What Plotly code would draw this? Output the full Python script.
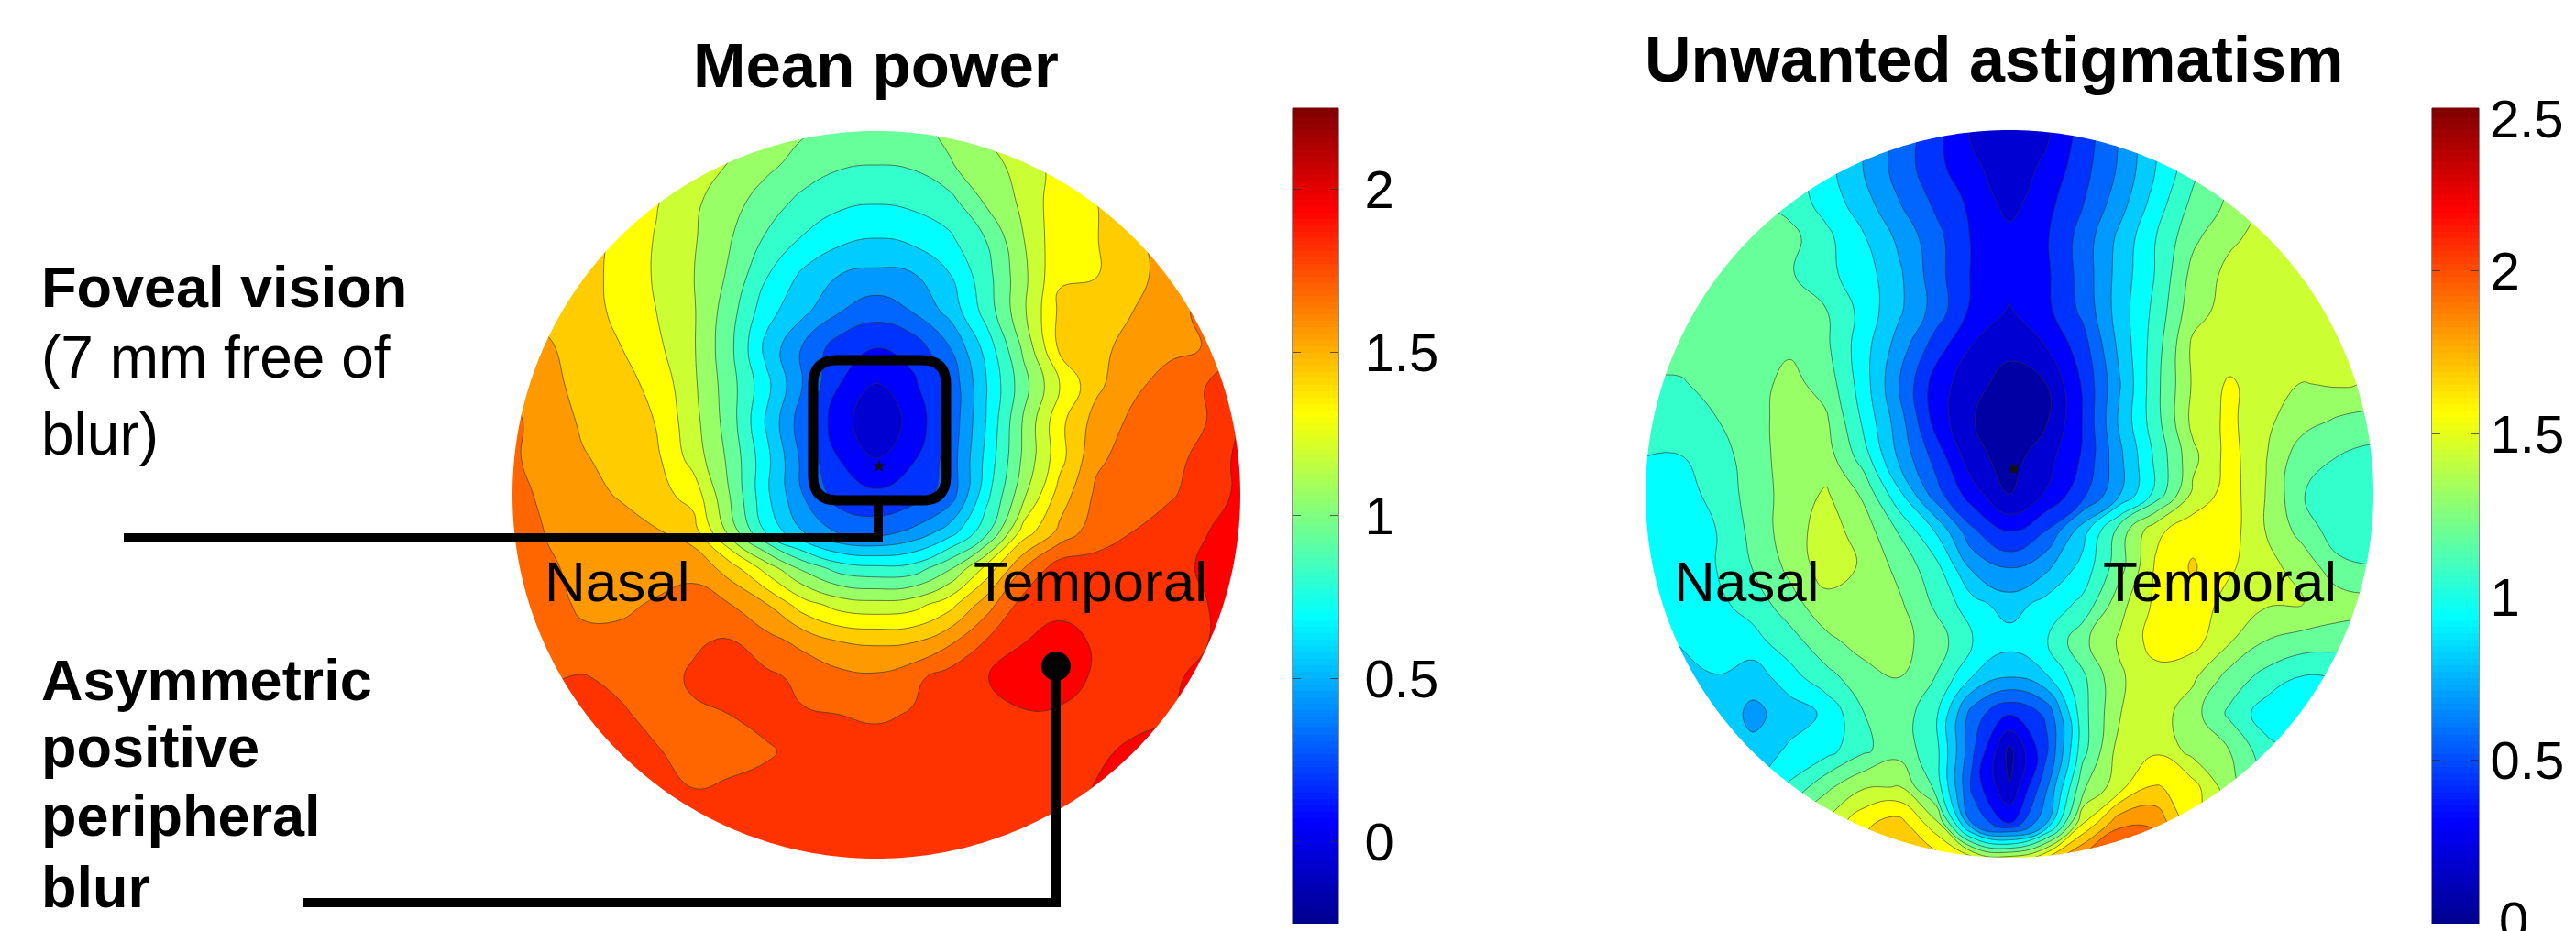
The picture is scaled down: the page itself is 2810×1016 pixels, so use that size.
import numpy as np
import plotly.graph_objects as go

W, H = 2810, 1016

# Pupil-normalised grid positions
grid_x = [round(-1 + 0.1 * i, 1) for i in range(21)]
grid_y = [round(1 - 0.1 * i, 1) for i in range(21)]

mean_power = [
 [1.5,1.45,1.42,1.4,1.35,1.28,1.2,1.1,1.02,.98,.96,.97,1.03,1.15,1.25,1.35,1.42,1.52,1.62,1.7,1.75],
 [1.5,1.5,1.45,1.4,1.32,1.2,1.115,1.03,.95,.89,.875,.89,.99,1.07,1.18,1.3,1.4,1.52,1.62,1.7,1.75],
 [1.5,1.48,1.43,1.36,1.26,1.15,1.05,.94,.84,.78,.76,.78,.83,1.02,1.15,1.33,1.37,1.48,1.6,1.68,1.74],
 [1.5,1.47,1.42,1.35,1.24,1.14,1.01,.86,.74,.66,.625,.66,.73,.88,1.12,1.34,1.37,1.46,1.58,1.66,1.72],
 [1.5,1.48,1.42,1.34,1.235,1.13,.98,.76,.6,.5,.47,.49,.62,.83,1.09,1.36,1.37,1.46,1.55,1.64,1.7],
 [1.55,1.47,1.42,1.35,1.25,1.14,.93,.67,.53,.38,.30,.38,.54,.8,1.1,1.4,1.43,1.5,1.58,1.66,1.72],
 [1.58,1.52,1.44,1.38,1.28,1.14,.91,.59,.36,.18,.125,.17,.37,.67,1.02,1.4,1.46,1.55,1.6,1.63,1.72],
 [1.62,1.53,1.47,1.42,1.34,1.15,.93,.66,.37,.125,-.005,.1,.28,.62,.95,1.25,1.47,1.6,1.67,1.75,1.85],
 [1.65,1.58,1.48,1.43,1.37,1.17,.94,.61,.3,.04,-.07,.03,.28,.63,1.01,1.34,1.55,1.65,1.7,1.75,1.88],
 [1.65,1.57,1.51,1.46,1.4,1.2,.97,.66,.34,.12,.0,.11,.3,.66,1.02,1.33,1.6,1.68,1.72,1.78,1.92],
 [1.67,1.6,1.54,1.49,1.42,1.33,1.0,.65,.375,.19,.15,.19,.3,.71,1.09,1.43,1.65,1.72,1.74,1.79,1.92],
 [1.7,1.62,1.57,1.55,1.51,1.43,1.08,.73,.5,.35,.32,.4,.56,.83,1.3,1.53,1.7,1.75,1.79,1.87,1.95],
 [1.7,1.64,1.6,1.58,1.57,1.6,1.44,1.2,.97,.82,.78,.8,.98,1.29,1.62,1.82,1.79,1.79,1.82,1.9,1.97],
 [1.72,1.68,1.6,1.6,1.64,1.66,1.63,1.51,1.31,1.2,1.17,1.2,1.33,1.57,1.8,1.84,1.84,1.84,1.84,1.87,1.95],
 [1.72,1.7,1.66,1.66,1.69,1.74,1.76,1.67,1.59,1.5,1.48,1.49,1.6,1.76,1.87,1.92,1.86,1.84,1.84,1.87,1.95],
 [1.74,1.74,1.76,1.72,1.72,1.76,1.82,1.78,1.72,1.67,1.65,1.72,1.81,1.87,1.95,1.95,1.85,1.84,1.86,1.9,1.95],
 [1.77,1.78,1.8,1.77,1.71,1.74,1.75,1.8,1.76,1.75,1.73,1.76,1.83,1.87,1.86,1.85,1.84,1.85,1.87,1.92,1.95],
 [1.8,1.8,1.82,1.78,1.76,1.7,1.7,1.73,1.8,1.82,1.81,1.83,1.84,1.84,1.84,1.84,1.86,1.89,1.92,1.95,1.97],
 [1.82,1.82,1.82,1.8,1.8,1.75,1.77,1.8,1.83,1.84,1.84,1.84,1.84,1.84,1.84,1.84,1.88,1.92,1.95,1.97,1.98],
 [1.83,1.83,1.83,1.83,1.83,1.82,1.83,1.84,1.84,1.85,1.85,1.85,1.85,1.85,1.85,1.86,1.9,1.94,1.96,1.98,1.98],
 [1.84,1.84,1.84,1.84,1.84,1.84,1.84,1.84,1.85,1.85,1.85,1.85,1.85,1.85,1.86,1.88,1.92,1.95,1.97,1.98,1.98],
]

astigmatism = [
 [1.2,1.2,1.2,1.15,1.08,.95,.78,.6,.42,.22,.15,.22,.42,.64,.88,1.05,1.3,1.4,1.42,1.42,1.42],
 [1.2,1.2,1.2,1.17,1.08,.92,.75,.57,.41,.27,.18,.27,.45,.64,.875,1.08,1.28,1.4,1.42,1.42,1.42],
 [1.2,1.2,1.2,1.16,1.07,.95,.8,.625,.47,.34,.2,.33,.49,.69,.93,1.15,1.27,1.4,1.42,1.42,1.42],
 [1.2,1.2,1.2,1.2,1.17,1.03,.89,.72,.54,.36,.29,.36,.55,.78,1.0,1.22,1.35,1.42,1.43,1.43,1.43],
 [1.2,1.2,1.2,1.2,1.14,1.03,.94,.77,.55,.36,.29,.35,.55,.8,1.01,1.29,1.41,1.44,1.44,1.44,1.44],
 [1.17,1.18,1.2,1.2,1.19,1.13,.96,.77,.57,.34,.24,.34,.53,.81,1.04,1.33,1.42,1.44,1.44,1.44,1.44],
 [1.15,1.18,1.2,1.22,1.23,1.15,.93,.69,.43,.24,.16,.25,.44,.78,1.07,1.4,1.42,1.44,1.44,1.42,1.38],
 [1.12,1.11,1.17,1.2,1.29,1.2,.94,.625,.31,.17,.07,.125,.39,.74,1.09,1.39,1.52,1.43,1.37,1.39,1.36],
 [1.08,1.1,1.12,1.19,1.32,1.27,.98,.68,.32,.13,.05,.11,.38,.77,1.08,1.41,1.53,1.4,1.3,1.23,1.2],
 [1.0,.99,1.08,1.17,1.33,1.31,1.07,.72,.45,.17,.07,.2,.39,.72,1.03,1.34,1.55,1.38,1.17,1.12,1.08],
 [.93,.93,1.05,1.17,1.31,1.39,1.23,.9,.55,.3,.125,.26,.46,.74,1.04,1.4,1.56,1.37,1.13,1.05,1.03],
 [.92,.92,1.0,1.16,1.32,1.43,1.32,1.11,.86,.52,.35,.5,.82,1.18,1.47,1.58,1.56,1.37,1.2,1.05,1.05],
 [.92,.93,1.0,1.13,1.28,1.44,1.36,1.21,1.04,.72,.61,.72,.92,1.2,1.52,1.64,1.52,1.41,1.33,1.16,1.13],
 [.9,.93,.97,1.05,1.2,1.33,1.32,1.27,1.1,.92,.815,.92,1.03,1.33,1.53,1.58,1.45,1.39,1.38,1.32,1.3],
 [.85,.88,.93,.96,1.07,1.22,1.3,1.29,1.19,1.0,.93,.99,1.22,1.39,1.56,1.55,1.39,1.25,1.2,1.18,1.15],
 [.85,.85,.87,.8,.95,1.08,1.2,1.25,1.12,.87,.75,.86,1.1,1.36,1.45,1.4,1.2,1.08,.99,1.0,1.0],
 [.85,.85,.83,.72,.8,.9,1.12,1.2,1.02,.56,.385,.52,1.08,1.37,1.44,1.3,1.1,.93,.9,.9,.9],
 [.8,.8,.8,.78,.9,.95,1.1,1.2,1.04,.52,.09,.47,1.08,1.43,1.48,1.33,1.25,1.05,.95,.95,.95],
 [.9,.9,.9,.9,1.02,1.22,1.36,1.38,1.08,.46,.13,.6,1.22,1.46,1.64,1.55,1.3,1.1,1.0,1.0,1.0],
 [1.0,1.0,1.0,1.1,1.25,1.4,1.6,1.68,1.42,.625,.38,.75,1.5,1.85,1.85,1.55,1.4,1.2,1.1,1.05,1.05],
 [1.2,1.2,1.2,1.25,1.35,1.5,1.65,1.75,1.7,1.6,1.5,1.7,1.95,2.05,2.0,1.8,1.5,1.3,1.2,1.15,1.15],
]

mean_ticks = [0, 0.5, 1, 1.5, 2]
astig_ticks = [0, 0.5, 1, 1.5, 2, 2.5]
astig_ticktext = ["", "0.5", "1", "1.5", "2", ""]
mean_range = [-0.25, 2.25]
astig_range = [0, 2.5]

JET = [[0, "#00008f"], [0.125, "#0000ff"], [0.375, "#00ffff"], [0.625, "#ffff00"], [0.875, "#ff0000"], [1, "#7f0000"]]

FONT = "Liberation Sans, Arial, sans-serif"

def fx(p): return p / W
def fy(p): return 1 - p / H

fig = go.Figure()

def map_panel(z, rng, n, cx, cy):
    half = 400
    xa, ya = f"xaxis{n}", f"yaxis{n}"
    fig.add_trace(go.Contour(
        x=grid_x, y=grid_y, z=z, xaxis=f"x{n}", yaxis=f"y{n}",
        colorscale=JET, zmin=rng[0], zmax=rng[1], showscale=False,
        contours=dict(coloring="fill", start=rng[0], end=rng[1], size=0.125, showlines=True),
        line=dict(color="rgba(45,45,45,0.6)", width=1, smoothing=1.3),
        hoverinfo="skip"))
    common = dict(range=[-1, 1], visible=False, fixedrange=True, automargin=False)
    fig.update_layout({
        xa: dict(domain=[fx(cx - half), fx(cx + half)], anchor=f"y{n}", **common),
        ya: dict(domain=[fy(cy + half), fy(cy - half)], anchor=f"x{n}", **common),
    })
    # white mask outside the circular aperture
    t = np.linspace(0, 2 * np.pi, 361)[:-1]
    r = 397
    ring = "M" + "L".join(f"{fx(cx + r*np.cos(a)):.6f},{fy(cy + r*np.sin(a)):.6f}" for a in t) + "Z"
    rect = (f"M{fx(cx-half-2):.6f},{fy(cy-half-2):.6f}L{fx(cx+half+2):.6f},{fy(cy-half-2):.6f}"
            f"L{fx(cx+half+2):.6f},{fy(cy+half+2):.6f}L{fx(cx-half-2):.6f},{fy(cy+half+2):.6f}Z")
    fig.add_shape(type="path", xref="paper", yref="paper", path=rect + ring, fillrule="evenodd",
                  fillcolor="white", line=dict(width=0), layer="above")

def bar_panel(rng, ticks, labels, n, x0, x1, y0, y1, standoff):
    v = [rng[0] + (rng[1] - rng[0]) * k / 128 for k in range(129)]
    fig.add_trace(go.Heatmap(
        x=[0, 1], y=v, z=[[a, a] for a in v], xaxis=f"x{n}", yaxis=f"y{n}",
        colorscale=JET, zmin=rng[0], zmax=rng[1], showscale=False, hoverinfo="skip"))
    fig.update_layout({
        f"xaxis{n}": dict(domain=[fx(x0), fx(x1)], anchor=f"y{n}", range=[0, 1], visible=False,
                          fixedrange=True, automargin=False),
        f"yaxis{n}": dict(domain=[fy(y1), fy(y0)], anchor=f"x{n}", side="right", range=rng, fixedrange=True,
                          automargin=False,
                          tickvals=ticks, ticktext=labels, ticks="inside", ticklen=9,
                          tickcolor="rgba(40,40,40,0.7)", tickwidth=1, showline=True, mirror="ticks",
                          linecolor="rgba(90,90,90,0.7)", linewidth=1, showgrid=False, zeroline=False,
                          ticklabelstandoff=standoff, tickfont=dict(family=FONT, size=58, color="black")),
    })

map_panel(mean_power, mean_range, 1, 956, 540)
map_panel(astigmatism, astig_range, 2, 2192, 539)
bar_panel(mean_range, mean_ticks, [f"{t:g}" for t in mean_ticks], 3, 1410, 1460, 117.5, 1008, 16)
bar_panel(astig_range, astig_ticks, astig_ticktext, 4, 2653, 2704, 117.5, 1008, 0)

# Vertex markers
fig.add_trace(go.Scatter(x=[0.0075], y=[0.078], mode="markers", xaxis="x", yaxis="y", hoverinfo="skip",
                         marker=dict(symbol="star", size=11, color="#111111")))
fig.add_trace(go.Scatter(x=[0.0125], y=[0.068], mode="markers", xaxis="x2", yaxis="y2", hoverinfo="skip",
                         marker=dict(symbol="circle", size=9, color="#111111")))

def text(s, x, y, size, bold=False, anchor="left"):
    fig.add_annotation(text=f"<b>{s}</b>" if bold else s, xref="paper", yref="paper", x=fx(x), y=fy(y),
                       xanchor=anchor, yanchor="middle", showarrow=False,
                       font=dict(family=FONT, size=size, color="black"))

text("Mean power", 955, 72, 69, True, "center")
text("Unwanted astigmatism", 2175, 65, 70, True, "center")
text("Foveal vision", 43, 313, 63, True)
text("(7 mm free of", 43, 390, 64)
text("blur)", 43, 474, 64)
text("Asymmetric", 43, 742, 63, True)
text("positive", 43, 815, 63, True)
text("peripheral", 43, 890, 63, True)
text("blur", 43, 968, 63, True)
for s, x in [("Nasal", 592), ("Temporal", 1060), ("Nasal", 1824), ("Temporal", 2292)]:
    text(s, x, 634, 62)
# end labels of the right colour scale sit slightly off their ticks, as in the source figure
text("2.5", 2714, 129, 58)
text("0", 2724, 1004, 58)

def seg(pts, width=10):
    path = "M" + "L".join(f"{fx(a):.6f},{fy(b):.6f}" for a, b in pts)
    fig.add_shape(type="path", xref="paper", yref="paper", path=path, line=dict(color="black", width=width), layer="above")

seg([(135, 587), (958, 587), (958, 546)])
seg([(1152, 727), (1152, 985), (330, 985)])
# rounded foveal box
a, b, c, d, q = 887, 1032, 393, 546, 26
box = (f"M{fx(a+q):.6f},{fy(c):.6f}L{fx(b-q):.6f},{fy(c):.6f}Q{fx(b):.6f},{fy(c):.6f} {fx(b):.6f},{fy(c+q):.6f}"
       f"L{fx(b):.6f},{fy(d-q):.6f}Q{fx(b):.6f},{fy(d):.6f} {fx(b-q):.6f},{fy(d):.6f}"
       f"L{fx(a+q):.6f},{fy(d):.6f}Q{fx(a):.6f},{fy(d):.6f} {fx(a):.6f},{fy(d-q):.6f}"
       f"L{fx(a):.6f},{fy(c+q):.6f}Q{fx(a):.6f},{fy(c):.6f} {fx(a+q):.6f},{fy(c):.6f}Z")
fig.add_shape(type="path", xref="paper", yref="paper", path=box, line=dict(color="black", width=11), layer="above")
fig.add_shape(type="circle", xref="paper", yref="paper", x0=fx(1136), x1=fx(1168), y0=fy(743), y1=fy(711),
              fillcolor="black", line=dict(width=0), layer="above")

fig.update_layout(width=W, height=H, autosize=False, margin=dict(l=0, r=0, t=0, b=0, pad=0),
                  paper_bgcolor="white", plot_bgcolor="white", showlegend=False)
fig.write_html("out.html", config={"displayModeBar": False}, post_script="document.body.style.margin='0';")
